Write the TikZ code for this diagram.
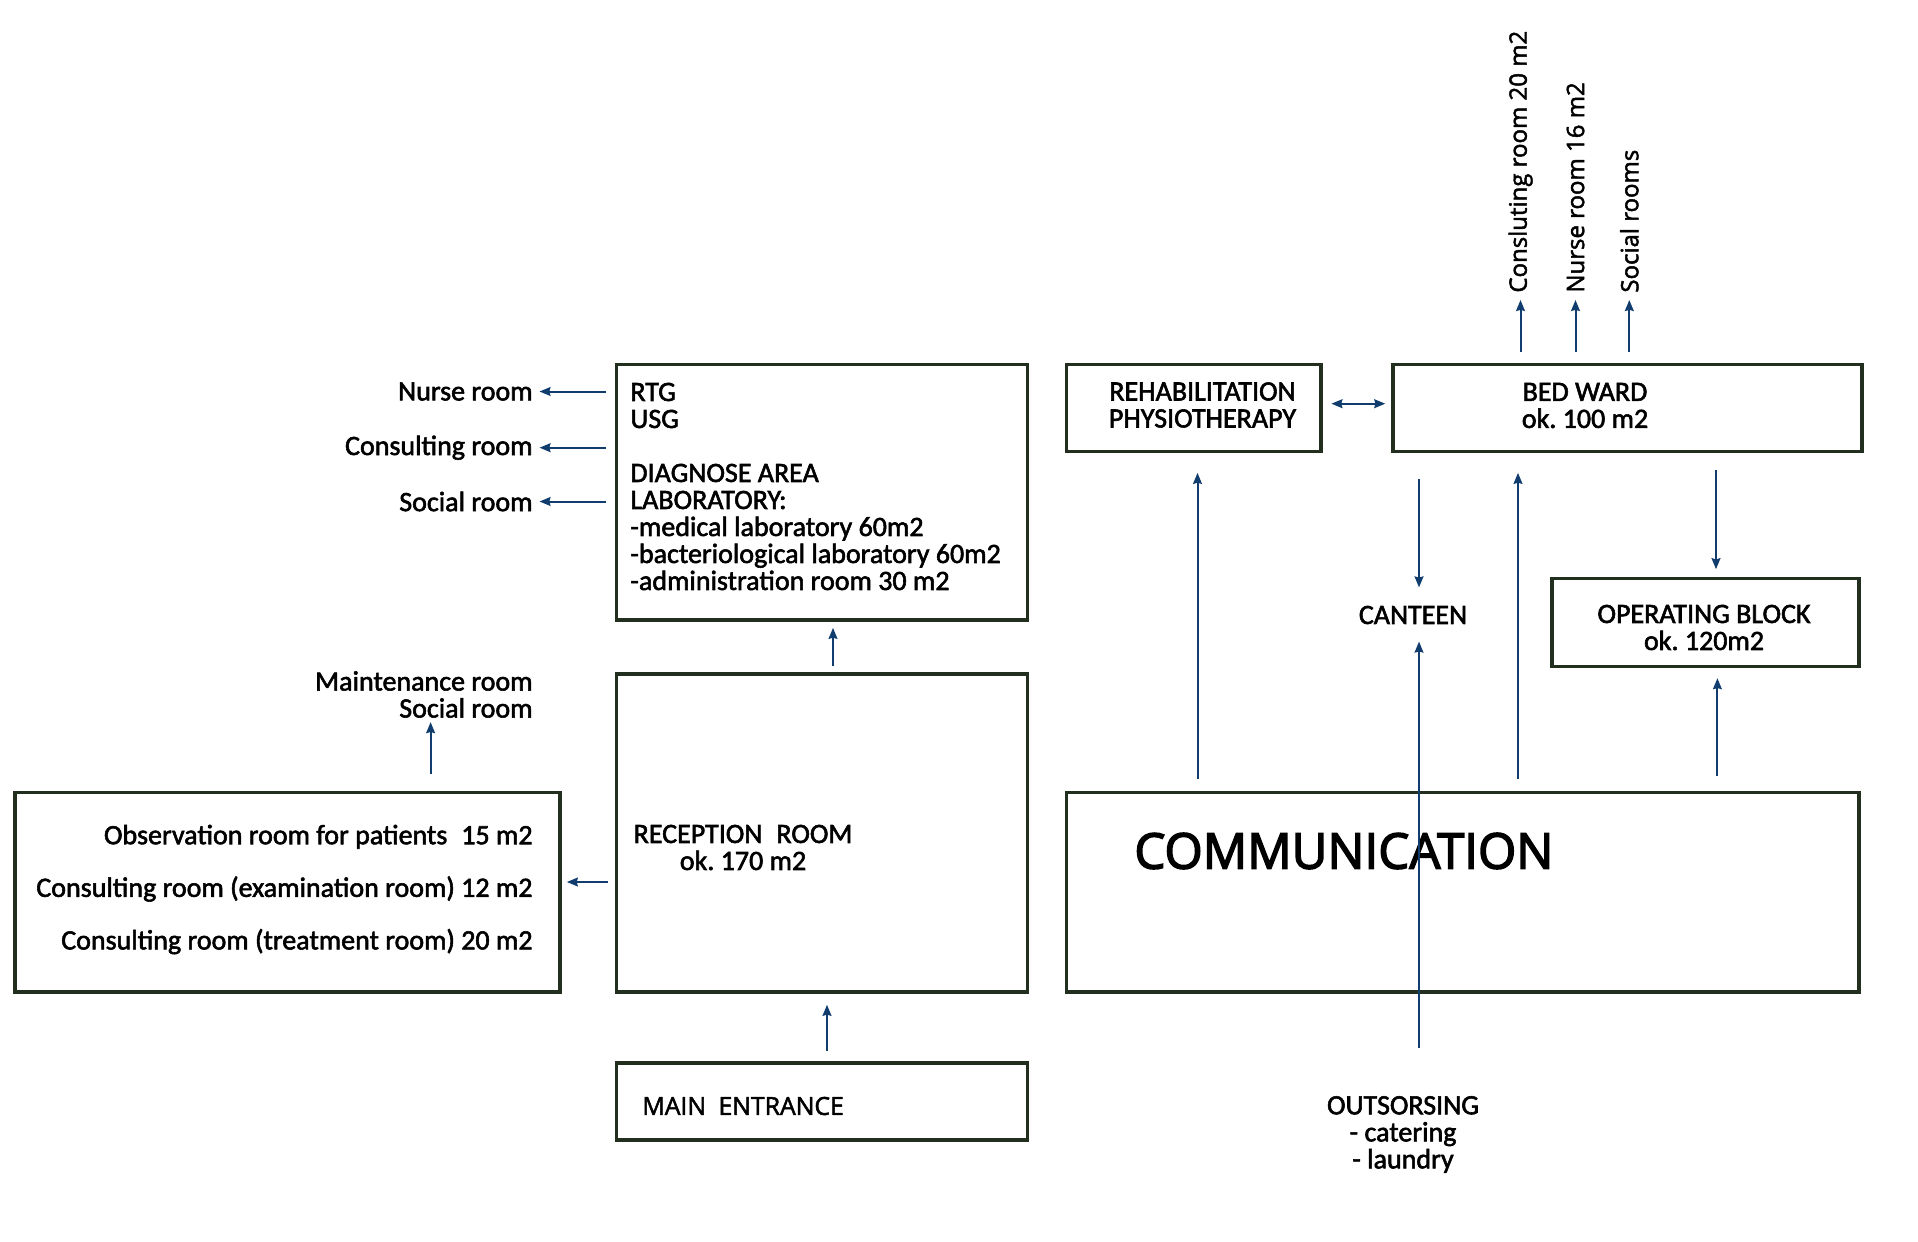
\documentclass[tikz,border=0pt]{standalone}
\usepackage{fontspec}
\setmainfont{Carlito}[FakeBold=2]
\newfontfamily\osans{Open Sans}[FakeBold=2]
\newfontfamily\osansb{Open Sans}[FakeBold=3]
\usetikzlibrary{arrows.meta,calc}
\definecolor{boxc}{RGB}{34,46,30}
\definecolor{arrc}{RGB}{16,60,110}
\begin{document}
\begin{tikzpicture}[x=0.5pt,y=-0.5pt,
  box/.style={draw=boxc,line width=1.8pt,inner sep=0pt,align=center,font=\fontsize{14}{13.5}\selectfont},
  lbl/.style={inner sep=0pt,font=\fontsize{14}{13.5}\selectfont},
  olbl/.style={inner sep=0pt,font=\osans\fontsize{12}{14}\selectfont},
  tipa/.tip={Stealth[length=5.5pt,width=4.4pt,inset=0.6pt]},
  arr/.style={draw=arrc,line width=1pt,-tipa},
  ]
\fill[white] (0,0) rectangle (1918,1242);
\useasboundingbox (0,0) rectangle (1918,1242);

% boxes
\node[box,minimum width=205.5pt,minimum height=127.75pt] (diag) at (822,492.3) {};
\node[lbl,anchor=west,align=left] (diagt) at (630,486.5) {RTG\\USG\\[13.5pt]DIAGNOSE AREA\\LABORATORY:\\-medical laboratory 60m2\\-bacteriological laboratory 60m2\\-administration room 30 m2};
\node[box,minimum width=205.5pt,minimum height=159pt] (recep) at (822,833) {};
\node[lbl,align=center] (recept) at (743,847.5) {RECEPTION\hspace{0.5em}ROOM\\ok.\ 170 m2};
\node[box,minimum width=205.5pt,minimum height=38.5pt] (main) at (822,1101.5) {};
\node[olbl,anchor=west,font=\osans\fontsize{12.4}{14}\selectfont] (maint) at (642,1106) {MAIN\hspace{0.5em}ENTRANCE};
\node[box,minimum width=272.65pt,minimum height=99.7pt] (obs) at (287.4,892.3) {};
\node[lbl,anchor=east,align=right,font=\fontsize{14}{26.3}\selectfont] (obst) at (533,889.5) {Observation room for patients\hspace{0.5em}15 m2\\Consulting room (examination room) 12 m2\\Consulting room (treatment room) 20 m2};
\node[box,minimum width=127.2pt,minimum height=43.45pt] (rehab) at (1193.8,408) {};
\node[lbl,align=center] (rehabt) at (1202.5,405) {REHABILITATION\\PHYSIOTHERAPY};
\node[box,minimum width=234.35pt,minimum height=43.45pt] (bed) at (1627.4,408) {};
\node[lbl,align=center] (bedt) at (1585,405.5) {BED WARD\\ok.\ 100 m2};
\node[box,minimum width=153.5pt,minimum height=44pt] (oper) at (1705.5,622.6) {};
\node[lbl,align=center] (opert) at (1704,627.5) {OPERATING BLOCK\\ok.\ 120m2};
\node[box,minimum width=396.2pt,minimum height=99.7pt] (comm) at (1462.8,892.3) {};
\node[inner sep=0pt,anchor=west,font=\osansb\fontsize{24.6}{28}\selectfont] (commt) at (1134,851) {COMMUNICATION};

% free labels
\node[lbl] (cant) at (1413,615) {CANTEEN};
\node[lbl,align=center] (outs) at (1403,1134.5) {OUTSORSING\\- catering\\- laundry};
\node[lbl,anchor=east] (nurse) at (533,391.5) {Nurse room};
\node[lbl,anchor=east] (cons) at (533,447.7) {Consulting room};
\node[lbl,anchor=east] (soc) at (533,501.5) {Social room};
\node[lbl,anchor=east,align=right] (maintl) at (533,694.5) {Maintenance room\\Social room};
\node[olbl,anchor=west,rotate=90] (r1) at (1520.5,293) {Consluting room 20 m2};
\node[olbl,anchor=west,rotate=90] (r2) at (1575.5,293) {Nurse room 16 m2};
\node[olbl,anchor=west,rotate=90] (r3) at (1629.3,293) {Social rooms};

% coordinates for connector positions
\coordinate (x1) at (833,0);
\coordinate (y1) at (0,882);
\coordinate (x2) at (430.6,0);
\coordinate (x3) at (827,0);
\coordinate (y2) at (0,403.7);
\coordinate (x4) at (1197.5,0);
\coordinate (x5) at (1419,0);
\coordinate (x6) at (1518,0);
\coordinate (x7) at (1716,0);
\coordinate (x8) at (1717.4,0);

% connectors
\draw[arr,shorten <=4.25pt,shorten >=3.25pt] (diag.west |- nurse.east) -- (nurse.east);
\draw[arr,shorten <=4.25pt,shorten >=3.25pt] (diag.west |- cons.east) -- (cons.east);
\draw[arr,shorten <=4.25pt,shorten >=3.25pt] (diag.west |- soc.east) -- (soc.east);
\draw[arr,shorten <=3pt,shorten >=3pt] (x1 |- recep.north) -- (x1 |- diag.south);
\draw[arr,shorten <=3.25pt,shorten >=2.5pt] (recep.west |- y1) -- (obs.east |- y1);
\draw[arr,shorten <=8.5pt,shorten >=2pt] (x2 |- obs.north) -- (x2 |- maintl.south);
\draw[arr,shorten <=5pt,shorten >=5.5pt] (x3 |- main.north) -- (x3 |- recep.south);
\draw[arr,tipa-tipa,shorten <=4.3pt,shorten >=3pt] (rehab.east |- y2) -- (bed.west |- y2);
\draw[arr,shorten <=5.5pt,shorten >=3.5pt] (r1.west |- bed.north) -- (r1.west);
\draw[arr,shorten <=5.5pt,shorten >=3.5pt] (r2.west |- bed.north) -- (r2.west);
\draw[arr,shorten <=5.5pt,shorten >=3.5pt] (r3.west |- bed.north) -- (r3.west);
\draw[arr,shorten <=6pt,shorten >=9.8pt] (x4 |- comm.north) -- (x4 |- rehab.south);
\draw[arr,shorten <=12.8pt,shorten >=9pt] (x5 |- bed.south) -- (x5 |- cant.north);
\draw[arr,shorten <=23.75pt,shorten >=8.5pt] (x5 |- outs.north) -- (x5 |- cant.south);
\draw[arr,shorten <=6pt,shorten >=9.8pt] (x6 |- comm.north) -- (x6 |- bed.south);
\draw[arr,shorten <=8.5pt,shorten >=3.8pt] (x7 |- bed.south) -- (x7 |- oper.north);
\draw[arr,shorten <=7.3pt,shorten >=4.9pt] (x8 |- comm.north) -- (x8 |- oper.south);
\end{tikzpicture}
\end{document}
